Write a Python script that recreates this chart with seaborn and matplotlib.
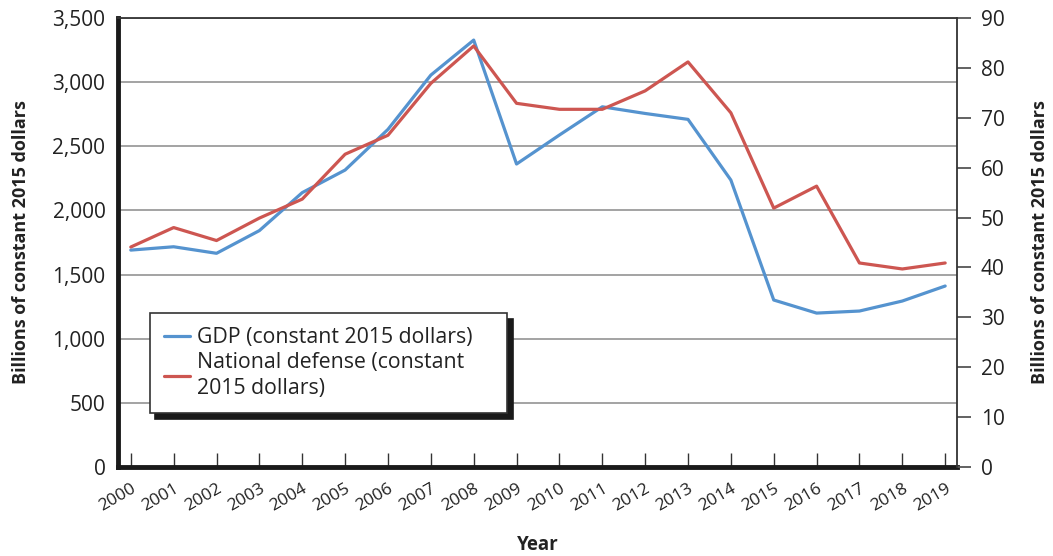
import matplotlib
matplotlib.use("Agg")
import matplotlib.pyplot as plt
import matplotlib.transforms as mtransforms
import seaborn as sns
import pandas as pd

years = list(range(2000, 2020))
gdp = [1691, 1717, 1666, 1843, 2139, 2315, 2632, 3055, 3328, 2362,
       2588, 2808, 2756, 2710, 2237, 1302, 1200, 1216, 1294, 1411]
defense = [44.1, 48.0, 45.4, 49.9, 53.7, 62.7, 66.5, 76.9, 84.4, 72.9,
           71.7, 71.7, 75.4, 81.2, 71.0, 51.9, 56.3, 40.9, 39.7, 40.9]
left_ticks = [0, 500, 1000, 1500, 2000, 2500, 3000, 3500]
right_ticks = [0, 10, 20, 30, 40, 50, 60, 70, 80, 90]
gdp_label = "GDP (constant 2015 dollars)"
def_label = "National defense (constant\n2015 dollars)"
ylabel = "Billions of constant 2015 dollars"
xlabel = "Year"

sns.set_theme(style="white")
plt.rcParams['font.family'] = ['Open Sans', 'DejaVu Sans']

df = pd.DataFrame({"year": years, "gdp": gdp, "defense": defense})

fig = plt.figure(figsize=(10.53, 5.56), dpi=100)
ax = fig.add_axes([0.112, 0.160, 0.797, 0.8076])
ax2 = ax.twinx()

blue = "#5593CF"
red = "#CD5651"

sns.lineplot(data=df, x="year", y="gdp", ax=ax, color=blue, lw=2.3, label=gdp_label, legend=False)
sns.lineplot(data=df, x="year", y="defense", ax=ax2, color=red, lw=2.3, label=def_label, legend=False)

ax.set_xlim(1999.70, 2019.28)
ax.set_ylim(0, 3500)
ax2.set_ylim(0, 90)

ax.set_yticks(left_ticks)
ax.set_yticklabels([f"{v:,}" for v in left_ticks])
ax2.set_yticks(right_ticks)
ax.set_xticks(years)
ax.set_xticklabels([str(y) for y in years], rotation=30, ha='right', rotation_mode='anchor')
offset = mtransforms.ScaledTranslation(2 / 100, 0, fig.dpi_scale_trans)
for lab in ax.get_xticklabels():
    lab.set_transform(lab.get_transform() + offset)

ax.yaxis.grid(True, color="#a3a3a3", lw=1.4)
ax.xaxis.grid(False)
ax2.grid(False)
ax.set_axisbelow(True)

for s in ['left', 'bottom']:
    ax.spines[s].set_color('#1a1a1a')
    ax.spines[s].set_linewidth(3.5)
ax.spines['top'].set_color('#333333')
ax.spines['top'].set_linewidth(1.3)
ax.spines['right'].set_visible(False)
for s in ['left', 'bottom', 'top']:
    ax2.spines[s].set_visible(False)
ax2.spines['right'].set_color('#333333')
ax2.spines['right'].set_linewidth(1.3)

ax.tick_params(axis='y', length=0, pad=9, labelsize=15, labelcolor='#222222')
ax.tick_params(axis='x', direction='in', length=10, width=1, color='#333333', pad=10,
               labelsize=12.5, labelcolor='#222222', bottom=True)
ax2.tick_params(axis='y', direction='out', length=10, width=1.3, color='#555555', pad=7,
                labelsize=15, labelcolor='#222222', right=True)

ax.set_xlabel(xlabel, fontsize=13.5, fontweight='bold', color='#222222')
ax.xaxis.set_label_coords(0.5, -0.151)
ax.set_ylabel(ylabel, fontsize=13, fontweight='bold', color='#222222')
ax.yaxis.set_label_coords(-0.105, 0.5)
ax2.set_ylabel(ylabel, fontsize=13, fontweight='bold', color='#222222')
ax2.yaxis.set_label_coords(1.088, 0.5)

h1, l1 = ax.get_legend_handles_labels()
h2, l2 = ax2.get_legend_handles_labels()
leg = ax2.legend(h1 + h2, l1 + l2, loc='lower left', bbox_to_anchor=(0.0381, 0.1203, 0.4255, 0.2227),
                 mode='expand', borderaxespad=0, fontsize=15.3, frameon=True, fancybox=False,
                 edgecolor='#333333', framealpha=1, handlelength=1.25, handletextpad=0.3,
                 labelspacing=0.2, borderpad=0.65,
                 shadow={'ox': 4, 'oy': -4, 'facecolor': '#1a1a1a', 'edgecolor': '#1a1a1a', 'alpha': 1})
leg.get_frame().set_linewidth(1.2)
for t in leg.get_texts():
    t.set_color('#222222')
    t.set_linespacing(1.3)

fig.savefig("out.png", dpi=100)
